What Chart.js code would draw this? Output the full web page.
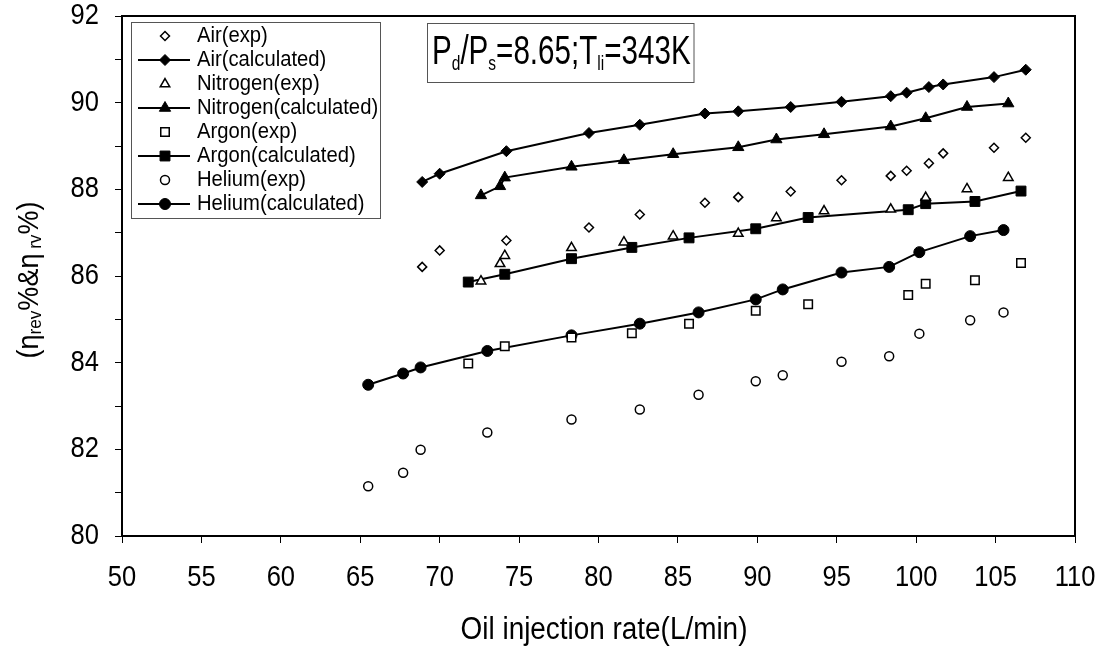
<!DOCTYPE html>
<html>
<head>
<meta charset="utf-8">
<title>Efficiency vs oil injection rate</title>
<script src="https://cdn.jsdelivr.net/npm/chart.js@4.4.1/dist/chart.umd.min.js"></script>
<style>
  html, body { margin: 0; padding: 0; background: #fff; }
  canvas { display: block; }
</style>
</head>
<body>
<canvas id="chart" width="1104" height="652"></canvas>
<script>
// oil injection rate (L/min) and efficiency (%) for each gas
const airRate = [68.9, 70.0, 74.2, 79.4, 82.6, 86.7, 88.8, 92.1, 95.3, 98.4, 99.4, 100.8, 101.7, 104.9, 106.9];
const airExp  = [86.21, 86.59, 86.82, 87.12, 87.42, 87.69, 87.82, 87.95, 88.21, 88.31, 88.43, 88.60, 88.83, 88.96, 89.19];
const airCalc = [88.17, 88.36, 88.88, 89.30, 89.49, 89.75, 89.80, 89.90, 90.02, 90.15, 90.23, 90.36, 90.42, 90.59, 90.76];

const n2Rate = [72.6, 73.8, 74.1, 78.3, 81.6, 84.7, 88.8, 91.2, 94.2, 98.4, 100.6, 103.2, 105.8];
const n2Exp  = [85.88, 86.28, 86.47, 86.65, 86.78, 86.92, 86.98, 87.34, 87.50, 87.54, 87.81, 88.01, 88.27];
const n2Calc = [87.86, 88.07, 88.27, 88.52, 88.67, 88.81, 88.97, 89.15, 89.27, 89.45, 89.64, 89.90, 89.98];

const arRate = [71.8, 74.1, 78.3, 82.1, 85.7, 89.9, 93.2, 99.5, 100.6, 103.7, 106.6];
const arExp  = [83.98, 84.38, 84.58, 84.68, 84.90, 85.20, 85.35, 85.56, 85.82, 85.90, 86.30];
const arCalc = [85.86, 86.04, 86.40, 86.66, 86.88, 87.09, 87.35, 87.53, 87.67, 87.72, 87.96];

const heRate = [65.5, 67.7, 68.8, 73.0, 78.3, 82.6, 86.3, 89.9, 91.6, 95.3, 98.3, 100.2, 103.4, 105.5];
const heExp  = [81.15, 81.46, 81.99, 82.39, 82.69, 82.92, 83.26, 83.57, 83.71, 84.02, 84.15, 84.67, 84.98, 85.16];
const heCalc = [83.49, 83.75, 83.89, 84.27, 84.63, 84.90, 85.16, 85.46, 85.69, 86.08, 86.21, 86.55, 86.92, 87.06];

const xTicks = [50, 55, 60, 65, 70, 75, 80, 85, 90, 95, 100, 105, 110];
const yTicks = [80, 82, 84, 86, 88, 90, 92];

const FONT = '"Liberation Sans", Arial, sans-serif';

const pts = (xs, ys) => xs.map((x, i) => ({ x: x, y: ys[i] }));

// open markers = measured, filled markers joined by a line = calculated
const series = [
  { label: 'Air(exp)', data: pts(airRate, airExp), style: 'rectRot', r: 4.5, solid: false },
  { label: 'Air(calculated)', data: pts(airRate, airCalc), style: 'rectRot', r: 5.5, solid: true },
  { label: 'Nitrogen(exp)', data: pts(n2Rate, n2Exp), style: 'triangle', r: 5.5, solid: false },
  { label: 'Nitrogen(calculated)', data: pts(n2Rate, n2Calc), style: 'triangle', r: 6.5, solid: true },
  { label: 'Argon(exp)', data: pts(arRate, arExp), style: 'rect', r: 6, solid: false },
  { label: 'Argon(calculated)', data: pts(arRate, arCalc), style: 'rect', r: 7, solid: true },
  { label: 'Helium(exp)', data: pts(heRate, heExp), style: 'circle', r: 4.5, solid: false },
  { label: 'Helium(calculated)', data: pts(heRate, heCalc), style: 'circle', r: 5.5, solid: true }
];

// draws a run of text pieces (for subscripts), squeezed horizontally by sx
function runText(ctx, parts, x, y, opts) {
  ctx.save();
  ctx.translate(x, y);
  if (opts.rotate) ctx.rotate(opts.rotate);
  ctx.scale(opts.sx || 1, 1);
  ctx.fillStyle = '#000';
  ctx.textAlign = 'left';
  ctx.textBaseline = opts.baseline || 'alphabetic';
  let total = 0;
  parts.forEach(p => {
    ctx.font = p.size + 'px ' + FONT;
    p.w = ctx.measureText(p.text).width;
    total += p.w;
  });
  let cx = 0;
  if (opts.align === 'center') cx = -total / 2;
  if (opts.align === 'right') cx = -total;
  parts.forEach(p => {
    ctx.font = p.size + 'px ' + FONT;
    ctx.fillText(p.text, cx, p.dy || 0);
    cx += p.w;
  });
  ctx.restore();
}

function marker(ctx, s, x, y) {
  ctx.save();
  ctx.fillStyle = s.solid ? '#000' : '#fff';
  ctx.strokeStyle = '#000';
  const bw = s.solid ? 1 : 1.5;
  ctx.lineWidth = bw;
  Chart.helpers.drawPoint(ctx, { pointStyle: s.style, radius: s.r, borderWidth: bw, rotation: 0 }, x, y);
  ctx.restore();
}

const decor = {
  id: 'decor',
  afterDraw(chart) {
    const ctx = chart.ctx;
    const a = chart.chartArea;
    const xs = chart.scales.x;
    const ys = chart.scales.y;

    // plot frame
    ctx.save();
    ctx.strokeStyle = '#000';
    ctx.lineWidth = 2;
    ctx.strokeRect(a.left, a.top, a.right - a.left, a.bottom - a.top);
    ctx.restore();

    // tick labels
    xTicks.forEach(v => runText(ctx, [{ text: String(v), size: 29 }], xs.getPixelForValue(v), 578,
      { sx: 0.88, align: 'center', baseline: 'middle' }));
    yTicks.forEach(v => runText(ctx, [{ text: String(v), size: 29 }], 99, ys.getPixelForValue(v),
      { sx: 0.88, align: 'right', baseline: 'middle' }));

    // axis titles
    runText(ctx, [{ text: 'Oil injection rate(L/min)', size: 31 }], 604, 630,
      { sx: 0.9, align: 'center', baseline: 'middle' });
    runText(ctx, [
      { text: '(η', size: 30 },
      { text: 'rev', size: 19, dy: 6 },
      { text: '%&η', size: 30 },
      { text: ' rv', size: 19, dy: 6 },
      { text: '%)', size: 30 }
    ], 30, 280, { rotate: -Math.PI / 2, sx: 0.9, align: 'center', baseline: 'middle' });

    // legend box
    ctx.save();
    ctx.fillStyle = '#fff';
    ctx.fillRect(132, 22, 249, 196);
    ctx.strokeStyle = '#555';
    ctx.lineWidth = 1;
    ctx.strokeRect(131.5, 22.5, 249, 196);
    ctx.restore();
    series.forEach((s, i) => {
      const cy = 36 + i * 24;
      if (s.solid) {
        ctx.save();
        ctx.strokeStyle = '#000';
        ctx.lineWidth = 2;
        ctx.beginPath();
        ctx.moveTo(138, cy);
        ctx.lineTo(190, cy);
        ctx.stroke();
        ctx.restore();
      }
      marker(ctx, s, 165, cy);
      runText(ctx, [{ text: s.label, size: 22 }], 197, cy, { sx: 0.92, baseline: 'middle' });
    });

    // operating condition note
    ctx.save();
    ctx.strokeStyle = '#555';
    ctx.lineWidth = 1;
    ctx.strokeRect(427.5, 23.5, 266.5, 59);
    ctx.restore();
    runText(ctx, [
      { text: 'P', size: 40 },
      { text: 'd', size: 21, dy: 6 },
      { text: '/P', size: 40 },
      { text: 's', size: 21, dy: 6 },
      { text: '=8.65;T', size: 40 },
      { text: 'li', size: 21, dy: 6 },
      { text: '=343K', size: 40 }
    ], 432, 64, { sx: 0.74 });
  }
};

const tickGrid = { drawOnChartArea: false, drawTicks: true, tickLength: 7, color: '#000', lineWidth: 1 };

new Chart(document.getElementById('chart'), {
  type: 'scatter',
  data: {
    datasets: series.map(s => ({
      label: s.label,
      data: s.data,
      showLine: s.solid,
      borderColor: '#000',
      borderWidth: 2,
      tension: 0,
      pointStyle: s.style,
      pointRadius: s.r,
      pointHoverRadius: s.r,
      pointBackgroundColor: s.solid ? '#000' : '#fff',
      pointBorderColor: '#000',
      pointBorderWidth: s.solid ? 1 : 1.5
    }))
  },
  options: {
    responsive: false,
    animation: false,
    layout: { padding: { top: 16, right: 29, left: 0, bottom: 0 } },
    plugins: { legend: { display: false }, tooltip: { enabled: false } },
    scales: {
      x: {
        type: 'linear',
        min: 50,
        max: 110,
        afterBuildTicks: scale => { scale.ticks = xTicks.map(v => ({ value: v })); },
        ticks: { display: false },
        grid: tickGrid,
        border: { display: false },
        afterFit: scale => { scale.height = 116; }
      },
      y: {
        min: 80,
        max: 92,
        ticks: { display: false, stepSize: 1 },
        grid: tickGrid,
        border: { display: false },
        afterFit: scale => { scale.width = 122; }
      }
    }
  },
  plugins: [decor]
});
</script>
</body>
</html>
